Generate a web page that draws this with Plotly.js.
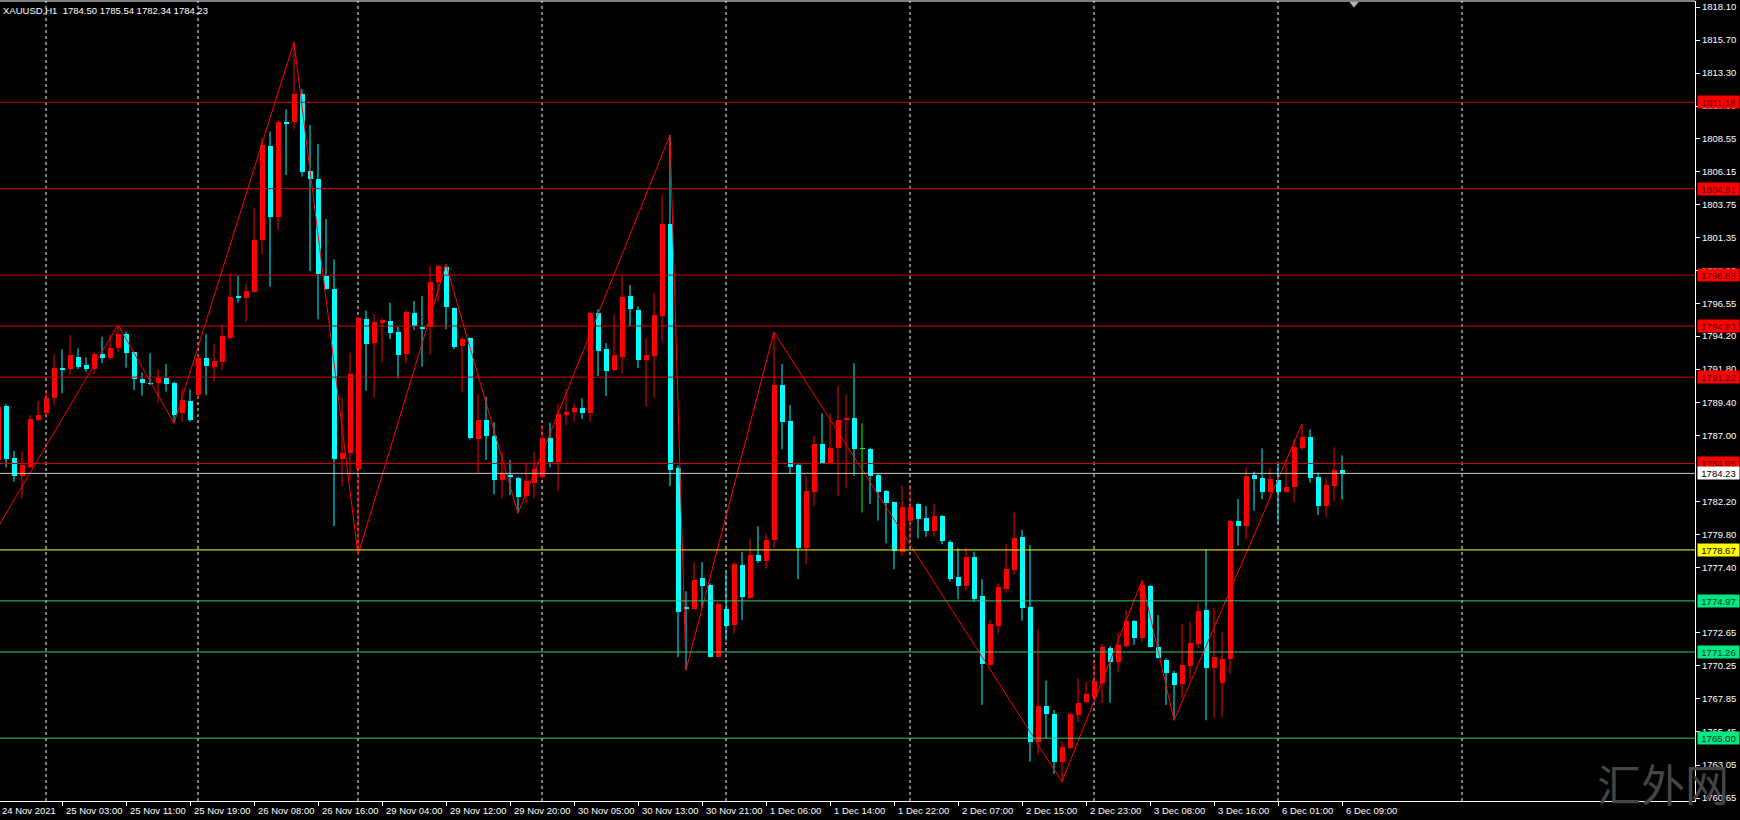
<!DOCTYPE html>
<html><head><meta charset="utf-8">
<script src="https://cdn.plot.ly/plotly-3.0.1.min.js"></script>
<style>html,body{margin:0;padding:0;background:#000;}#chart{width:1740px;height:820px;}</style>
</head><body><div id="chart"></div>
<script>
// ---- DATA (XAUUSD H1, bar index 0 = 24 Nov 2021 ... 168 = 6 Dec 09:00) ----
const opens = [1785.20,1789.15,1785.32,1784.07,1784.72,1788.11,1788.64,1789.73,1791.86,1791.81,
1792.66,1792.10,1791.81,1792.90,1792.59,1793.31,1794.35,1793.02,1791.11,1790.82,
1790.77,1791.13,1790.82,1788.64,1789.51,1789.92,1792.59,1791.98,1792.34,1794.09,
1797.11,1796.99,1797.43,1801.18,1808.00,1802.83,1809.75,1809.72,1811.78,1806.19,
1805.61,1798.57,1797.60,1785.25,1785.74,1784.53,1795.42,1793.72,1795.18,1795.32,
1794.47,1792.90,1795.85,1794.88,1794.84,1798.11,1799.24,1796.22,1793.48,1794.04,
1786.73,1788.11,1786.94,1783.75,1784.09,1783.87,1782.61,1783.51,1783.99,1786.78,
1785.03,1788.47,1788.69,1788.95,1788.63,1795.89,1793.30,1791.74,1792.70,1797.11,
1796.10,1792.47,1792.78,1795.68,1802.32,1784.61,1774.50,1774.37,1776.62,1776.11,
1770.92,1774.37,1773.20,1777.61,1775.20,1778.31,1777.87,1779.42,1790.65,1788.06,
1784.84,1778.79,1782.85,1786.37,1785.01,1786.10,1788.11,1788.23,1786.05,1786.00,
1784.11,1782.95,1782.13,1778.50,1780.77,1781.98,1780.97,1780.07,1781.14,1779.27,
1776.68,1776.05,1778.13,1775.33,1770.31,1773.17,1775.83,1777.21,1779.59,1774.55,
1764.75,1767.34,1766.73,1763.30,1764.31,1766.68,1767.65,1767.97,1768.98,1771.57,
1770.56,1771.69,1773.51,1772.30,1776.05,1771.65,1770.68,1769.76,1768.94,1770.27,
1771.84,1774.31,1770.07,1769.03,1770.73,1780.77,1780.43,1784.11,1783.87,1782.90,
1783.75,1782.90,1783.22,1786.05,1786.85,1783.94,1781.89,1783.34,1784.50];
const highs = [1789.20,1789.27,1785.86,1785.81,1788.47,1789.49,1790.29,1792.83,1793.24,1794.28,
1793.31,1792.66,1793.07,1794.16,1794.28,1795.01,1794.52,1793.07,1791.55,1792.95,
1791.79,1792.17,1790.89,1790.41,1790.34,1792.90,1794.33,1793.60,1795.01,1798.76,
1798.57,1798.03,1803.48,1808.56,1809.05,1809.90,1810.67,1815.56,1812.12,1809.53,
1808.15,1802.70,1799.77,1789.68,1792.99,1795.61,1796.05,1795.81,1795.50,1796.63,
1794.88,1796.09,1796.75,1797.11,1799.29,1799.36,1799.41,1796.26,1794.15,1794.11,
1789.97,1789.80,1787.94,1785.76,1785.20,1783.99,1785.01,1785.81,1787.74,1787.91,
1789.27,1790.33,1789.32,1789.68,1796.00,1796.15,1793.69,1795.76,1798.61,1797.91,
1796.36,1794.07,1797.31,1804.44,1808.80,1784.80,1775.67,1777.79,1777.79,1776.24,
1774.89,1777.01,1777.79,1778.52,1779.48,1780.38,1779.86,1794.50,1792.17,1789.20,
1785.01,1784.04,1786.95,1788.59,1788.59,1790.58,1789.92,1792.22,1787.87,1786.10,
1784.19,1783.02,1782.18,1783.34,1783.39,1782.06,1781.86,1781.98,1781.21,1779.39,
1778.79,1778.84,1778.55,1776.54,1773.58,1776.25,1779.10,1781.38,1780.12,1779.03,
1772.90,1769.18,1767.05,1764.75,1766.85,1769.35,1769.10,1770.68,1771.89,1771.69,
1772.66,1774.31,1773.58,1776.44,1776.12,1773.95,1770.80,1769.90,1773.29,1773.46,
1774.84,1778.72,1774.50,1772.69,1780.85,1782.37,1784.65,1784.36,1786.05,1784.60,
1784.96,1785.20,1786.70,1787.82,1787.43,1784.28,1783.87,1786.12,1785.54];
const lows = [1784.96,1784.67,1783.63,1782.42,1784.60,1788.06,1788.35,1789.20,1790.05,1791.42,
1791.81,1791.62,1791.45,1792.22,1792.47,1793.07,1791.91,1790.29,1789.88,1790.65,
1789.39,1790.17,1787.87,1787.99,1787.99,1789.70,1789.92,1790.89,1791.74,1794.04,
1796.63,1795.25,1797.36,1800.14,1797.79,1801.90,1805.90,1809.22,1805.78,1798.93,
1795.42,1797.55,1780.41,1783.27,1783.87,1778.30,1790.24,1789.73,1792.27,1793.97,
1791.13,1792.22,1794.64,1791.98,1792.88,1796.75,1794.69,1793.24,1790.16,1786.70,
1784.23,1785.20,1782.71,1782.42,1782.66,1781.33,1782.06,1782.42,1783.87,1784.67,
1782.97,1787.74,1787.99,1788.18,1787.98,1791.30,1789.85,1791.61,1791.48,1794.90,
1791.87,1789.07,1789.74,1793.81,1783.31,1770.87,1769.96,1774.32,1774.50,1770.87,
1770.87,1772.08,1772.60,1773.59,1775.09,1777.74,1777.30,1778.78,1785.98,1784.23,
1776.54,1777.63,1781.89,1784.96,1784.89,1782.61,1783.19,1784.04,1781.38,1782.01,
1780.80,1779.15,1777.26,1778.25,1779.39,1779.51,1779.63,1779.63,1779.08,1776.37,
1775.08,1775.71,1774.91,1767.41,1770.19,1772.61,1775.57,1776.90,1773.53,1763.30,
1763.78,1764.99,1762.40,1761.84,1764.19,1766.20,1767.53,1767.77,1767.53,1767.58,
1769.83,1771.60,1771.77,1772.01,1771.60,1770.80,1767.41,1766.30,1767.90,1769.27,
1771.53,1766.30,1766.44,1766.56,1769.71,1778.98,1779.44,1781.52,1782.35,1782.35,
1780.65,1782.83,1782.10,1785.93,1783.56,1781.21,1781.04,1782.23,1782.34];
const closes = [1789.08,1785.25,1784.07,1784.84,1788.18,1788.47,1789.68,1791.86,1791.74,1792.83,
1791.98,1791.81,1792.90,1792.63,1793.31,1794.35,1793.00,1791.06,1790.77,1790.75,
1791.18,1790.70,1788.47,1789.56,1788.11,1792.59,1792.05,1792.39,1794.23,1797.02,
1796.97,1797.48,1801.18,1808.08,1802.87,1809.77,1809.60,1811.78,1806.14,1805.58,
1798.71,1797.60,1785.25,1785.69,1791.45,1795.49,1793.60,1795.20,1795.37,1794.45,
1792.83,1795.97,1794.93,1794.69,1798.12,1799.29,1796.34,1793.38,1793.99,1786.78,
1788.11,1786.97,1783.75,1784.19,1783.94,1782.54,1783.68,1784.55,1786.78,1785.03,
1788.54,1788.71,1788.98,1788.64,1795.89,1793.11,1791.66,1792.85,1797.05,1796.15,
1792.44,1792.83,1795.76,1802.32,1784.48,1774.16,1774.37,1776.49,1776.05,1770.92,
1774.76,1773.12,1777.66,1775.23,1778.31,1777.87,1779.42,1790.65,1787.99,1784.72,
1778.79,1782.95,1786.37,1785.01,1786.10,1788.11,1788.23,1786.00,1786.05,1784.06,
1782.90,1782.10,1778.59,1781.76,1781.76,1780.92,1780.07,1781.14,1779.32,1776.54,
1776.05,1778.13,1775.08,1770.36,1773.27,1776.00,1777.29,1779.56,1774.43,1764.75,
1767.34,1766.73,1763.30,1764.38,1766.73,1767.58,1768.19,1769.15,1771.65,1770.56,
1771.77,1773.53,1772.30,1776.12,1771.65,1770.85,1769.76,1768.86,1770.32,1771.94,
1774.26,1770.07,1770.92,1770.75,1780.77,1780.43,1784.04,1783.82,1782.90,1783.82,
1782.90,1783.22,1786.12,1786.85,1783.92,1781.89,1783.39,1784.48,1784.23];

const timeTickBars = [0,8,16,24,32,40,48,56,64,72,80,88,96,104,112,120,128,136,144,152,160,168];
const timeTickLabels = ["24 Nov 2021","25 Nov 03:00","25 Nov 11:00","25 Nov 19:00","26 Nov 08:00",
"26 Nov 16:00","29 Nov 04:00","29 Nov 12:00","29 Nov 20:00","30 Nov 05:00","30 Nov 13:00",
"30 Nov 21:00","1 Dec 06:00","1 Dec 14:00","1 Dec 22:00","2 Dec 07:00","2 Dec 15:00",
"2 Dec 23:00","3 Dec 08:00","3 Dec 16:00","6 Dec 01:00","6 Dec 09:00"];
const dayStartBars = [6,25,45,68,91,114,137,160,183];

const priceTickVals = [1818.10,1815.70,1813.30,1810.90,1808.55,1806.15,1803.75,1801.35,1798.95,1796.55,
1794.20,1791.80,1789.40,1787.00,1782.20,1779.80,1777.40,1772.65,1770.25,
1767.85,1765.45,1763.05,1760.65];
const priceTickText = priceTickVals.map(v => v.toFixed(2));

const levelPrices = [1811.18,1804.91,1798.63,1794.93,1791.22,1784.95,1784.23,1778.67,1774.97,1771.26,1765.00];
const levelKinds  = ["res","res","res","res","res","res","bid","pivot","sup","sup","sup"];

const zigzagBars   = [-3,15,22,37,45,56,65,84,86,97,133,143,147,163];
const zigzagPrices = [1777.40,1795.01,1787.87,1815.56,1778.30,1799.41,1781.33,1808.80,1769.96,1794.50,1761.84,1776.44,1766.30,1787.82];

const symbolText = "XAUUSD,H1\u00a0\u00a01784.50 1785.54 1782.34 1784.23";
const watermarkText = "汇外网";

// ---- STYLES ----
const UP = "#ff0000", DOWN = "#00ffff", DOJI = "#00ff00";
const levelStyle = {
  res:   {line:"#d40000", bg:"#ff0000", fg:"#5a0000"},
  bid:   {line:"#c8c8c8", bg:"#ffffff", fg:"#000000"},
  pivot: {line:"#ffff00", bg:"#ffff00", fg:"#000000"},
  sup:   {line:"#3cc878", bg:"#00e882", fg:"#003a1a"}
};
const FONT = "Liberation Sans, Arial, sans-serif";

const idx = opens.map((_, i) => i);
const col = idx.map(i => closes[i] > opens[i] ? UP : (closes[i] < opens[i] ? DOWN : DOJI));
const minBody = 0.075;
const bodyBase = idx.map(i => {
  const lo = Math.min(opens[i], closes[i]), d = Math.abs(closes[i] - opens[i]);
  return d < minBody ? lo - (minBody - d) / 2 : lo;
});
const bodyLen = idx.map(i => Math.max(Math.abs(closes[i] - opens[i]), minBody));

const traces = [];
[UP, DOWN, DOJI].forEach(c => {
  const xs = [], ys = [];
  idx.forEach(i => { if (col[i] === c) { xs.push(i, i, null); ys.push(lows[i], highs[i], null); } });
  traces.push({type:"scatter", mode:"lines", x:xs, y:ys, line:{color:c, width:1}, hoverinfo:"skip", showlegend:false});
});
traces.push({type:"bar", x:idx, y:bodyLen, base:bodyBase, width:0.625,
  marker:{color:col, line:{width:0}}, hoverinfo:"skip", showlegend:false});
traces.push({type:"scatter", mode:"lines", x:zigzagBars, y:zigzagPrices,
  line:{color:"#ff0000", width:1}, hoverinfo:"skip", showlegend:false, cliponaxis:true});

const shapes = [];
dayStartBars.forEach(b => shapes.push({type:"line", xref:"x", yref:"paper", x0:b, x1:b, y0:0, y1:1,
  line:{color:"#ffffff", width:1, dash:"3px,3px"}, layer:"below"}));
levelPrices.forEach((p, k) => shapes.push({type:"line", xref:"paper", yref:"y", x0:0, x1:1, y0:p, y1:p,
  line:{color:levelStyle[levelKinds[k]].line, width:1}}));
shapes.push({type:"line", xref:"paper", yref:"paper", x0:0, x1:1, y0:1, y1:1, line:{color:"#ffffff", width:1}});
shapes.push({type:"path", xref:"x", yref:"paper", path:"M 168.9,0.999 L 170.1,0.999 L 169.5,0.992 Z",
  fillcolor:"#b0b0b0", line:{width:0}});

const annotations = [];
annotations.push({xref:"paper", yref:"paper", x:1, y:0, xanchor:"right", yanchor:"bottom", xshift:36, yshift:-16,
  showarrow:false, text:watermarkText, font:{family:"Noto Sans CJK SC", size:44, color:"#454545"}});
timeTickBars.forEach((b, k) => annotations.push({xref:"x", yref:"paper", x:b + 0.3, y:0,
  xanchor:"left", yanchor:"top", yshift:-2, showarrow:false, text:timeTickLabels[k],
  font:{family:FONT, size:9.5, color:"#ffffff"}}));
levelPrices.forEach((p, k) => {
  const s = levelStyle[levelKinds[k]];
  annotations.push({xref:"paper", yref:"y", x:1, y:p, xanchor:"left", yanchor:"middle", xshift:2,
    showarrow:false, text:p.toFixed(2), bgcolor:s.bg, borderpad:0, width:41, height:12,
    font:{family:FONT, size:9.5, color:s.fg}});
});
annotations.push({xref:"paper", yref:"paper", x:0, y:1, xanchor:"left", yanchor:"top", xshift:1, yshift:-2,
  showarrow:false, text:symbolText, font:{family:FONT, size:9.5, color:"#ffffff"}});

const layout = {
  width:1740, height:820,
  margin:{l:0, r:45, t:1, b:19, pad:0},
  paper_bgcolor:"#000000", plot_bgcolor:"#000000",
  showlegend:false, bargap:0,
  xaxis:{range:[0.25, 212.125], tickvals:timeTickBars, ticks:"outside", ticklen:4, tickcolor:"#ffffff",
    showticklabels:false, showline:true, linecolor:"#ffffff", linewidth:1, showgrid:false, zeroline:false, fixedrange:true},
  yaxis:{range:[1760.438, 1818.536], side:"right", tickvals:priceTickVals, ticktext:priceTickText,
    ticks:"outside", ticklen:4, tickcolor:"#ffffff", showline:true, linecolor:"#ffffff", linewidth:1,
    showgrid:false, zeroline:false, tickfont:{family:FONT, size:9.5, color:"#ffffff"}, fixedrange:true},
  shapes:shapes, annotations:annotations
};
Plotly.newPlot("chart", traces, layout, {staticPlot:true, displayModeBar:false});
</script></body></html>
